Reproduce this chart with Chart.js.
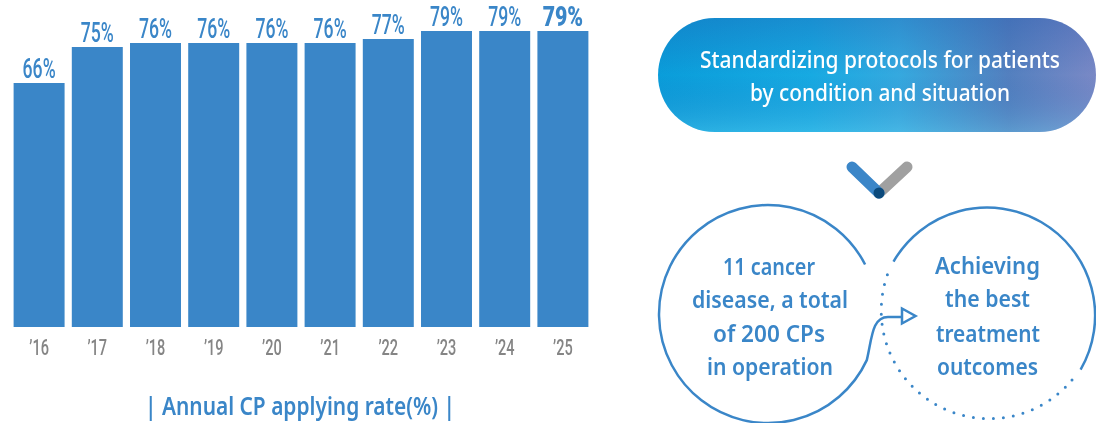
<!DOCTYPE html>
<html>
<head>
<meta charset="utf-8">
<script src="https://cdn.jsdelivr.net/npm/chart.js@4.4.1/dist/chart.umd.min.js"></script>
<style>
  html, body { margin: 0; padding: 0; background: #fff; }
  #wrap { position: relative; width: 1096px; height: 423px; overflow: hidden; }
  #chart-box { position: absolute; left: 0; top: 0; width: 600px; height: 423px; }
  #deco { position: absolute; left: 0; top: 0; }
  .blue { fill: #3a86c8; font-family: 'Noto Sans', 'Open Sans', sans-serif; font-weight: 600; }
  .pill-text { fill: #fff; font-family: 'Noto Sans', 'Open Sans', sans-serif; font-weight: 500; font-size: 23px; }
</style>
</head>
<body>
<div id="wrap">
  <div id="chart-box"><canvas id="rateChart" width="600" height="423"></canvas></div>
  <svg id="deco" width="1096" height="423" viewBox="0 0 1096 423">
    <defs>
      <linearGradient id="pillBase" x1="0" y1="0" x2="1" y2="0">
        <stop offset="0" stop-color="#0a9dda"/>
        <stop offset="0.35" stop-color="#17aae2"/>
        <stop offset="0.55" stop-color="#35a9df"/>
        <stop offset="0.8" stop-color="#5380bf"/>
        <stop offset="1" stop-color="#7a89c6"/>
      </linearGradient>
      <linearGradient id="pillShade" x1="0" y1="0" x2="0" y2="1">
        <stop offset="0" stop-color="#1f4fa8" stop-opacity="0.3"/>
        <stop offset="0.5" stop-color="#1f4fa8" stop-opacity="0"/>
        <stop offset="1" stop-color="#6fd6f2" stop-opacity="0.3"/>
      </linearGradient>
    </defs>

    <!-- chart caption -->
    <text class="blue" x="145" y="415" font-size="25" textLength="310" lengthAdjust="spacingAndGlyphs">|  Annual CP applying rate(%)  |</text>

    <!-- pill -->
    <rect x="658" y="18" width="438" height="114" rx="57" fill="url(#pillBase)"/>
    <rect x="658" y="18" width="438" height="114" rx="57" fill="url(#pillShade)"/>
    <text class="pill-text" x="700" y="68" textLength="360" lengthAdjust="spacingAndGlyphs">Standardizing protocols for patients</text>
    <text class="pill-text" x="750" y="101" textLength="260" lengthAdjust="spacingAndGlyphs">by condition and situation</text>

    <!-- chevron -->
    <line x1="907" y1="167" x2="879" y2="193" stroke="#a0a0a0" stroke-width="11" stroke-linecap="round"/>
    <line x1="852" y1="167" x2="879" y2="193" stroke="#3b86c8" stroke-width="11" stroke-linecap="round"/>
    <circle cx="879" cy="193" r="5.5" fill="#0b4a7c"/>

    <!-- left circle + connector -->
    <path d="M 865.1 264.5 A 109 109 0 1 0 866.8 360.1 C 872 338 872 317 888 317 L 902 317"
          fill="none" stroke="#3a86c8" stroke-width="2.5"/>
    <path d="M 902 308.5 L 915.5 316 L 902 323.5 Z" fill="#fff" stroke="#3a86c8" stroke-width="2.5" stroke-linejoin="miter"/>

    <!-- right circle: solid top, dotted bottom -->
    <path d="M 893.5 261.6 A 108 108 0 1 1 1080.6 369.6" fill="none" stroke="#3a86c8" stroke-width="2.5"/>
    <path d="M 1072 380 A 108 108 0 0 1 890 268" fill="none" stroke="#3a86c8" stroke-width="3"
          stroke-dasharray="0 10" stroke-linecap="round"/>

    <!-- circle texts -->
    <text class="blue" font-size="24" x="723" y="275" textLength="92" lengthAdjust="spacingAndGlyphs">11 cancer</text>
    <text class="blue" font-size="24" x="692" y="308" textLength="156" lengthAdjust="spacingAndGlyphs">disease, a total</text>
    <text class="blue" font-size="24" x="713" y="342" textLength="112" lengthAdjust="spacingAndGlyphs">of 200 CPs</text>
    <text class="blue" font-size="24" x="707" y="375" textLength="126" lengthAdjust="spacingAndGlyphs">in operation</text>

    <text class="blue" font-size="24" x="935" y="274" textLength="105" lengthAdjust="spacingAndGlyphs">Achieving</text>
    <text class="blue" font-size="24" x="945" y="307" textLength="85" lengthAdjust="spacingAndGlyphs">the best</text>
    <text class="blue" font-size="24" x="936" y="342" textLength="104" lengthAdjust="spacingAndGlyphs">treatment</text>
    <text class="blue" font-size="24" x="937" y="375" textLength="101" lengthAdjust="spacingAndGlyphs">outcomes</text>
  </svg>
</div>

<script>
// Data
const years = ['’16', '’17', '’18', '’19', '’20', '’21', '’22', '’23', '’24', '’25'];
const rates = [66, 75, 76, 76, 76, 76, 77, 79, 79, 79];

const BAR_BLUE = '#3a86c8';
const TICK_GRAY = '#858585';

// draws text squeezed horizontally (condensed look)
function condensedText(ctx, text, x, y, sx) {
    ctx.save();
    ctx.translate(x, y);
    ctx.scale(sx, 1);
    ctx.fillText(text, 0, 0);
    ctx.restore();
}

// Value labels on top of bars + year labels under them
const labelPlugin = {
    id: 'barLabels',
    afterDatasetsDraw(chart) {
        const ctx = chart.ctx;
        const meta = chart.getDatasetMeta(0);
        const xScale = chart.scales.x;
        const bottom = chart.chartArea.bottom;

        ctx.save();
        ctx.textAlign = 'center';
        ctx.textBaseline = 'alphabetic';

        meta.data.forEach((bar, i) => {
            const last = i === rates.length - 1;
            ctx.fillStyle = BAR_BLUE;
            ctx.font = (last ? '900 ' : '500 ') + '28px Roboto, "Liberation Sans", sans-serif';
            condensedText(ctx, rates[i] + '%', bar.x, bar.y - 5, last ? 0.76 : 0.63);
        });

        ctx.fillStyle = TICK_GRAY;
        ctx.font = '500 22px Roboto, "Liberation Sans", sans-serif';
        years.forEach((y, i) => {
            condensedText(ctx, y, xScale.getPixelForValue(i), bottom + 28, 0.66);
        });
        ctx.restore();
    }
};

new Chart(document.getElementById('rateChart'), {
    type: 'bar',
    data: {
        labels: years,
        datasets: [{
            label: 'Annual CP applying rate(%)',
            data: rates,
            backgroundColor: BAR_BLUE,
            borderWidth: 0,
            barPercentage: 0.876,
            categoryPercentage: 1
        }]
    },
    options: {
        responsive: false,
        animation: false,
        layout: { padding: { left: 10, right: 8, top: 7, bottom: 96 } },
        scales: {
            x: { display: false },
            y: { display: false, min: 5, max: 85 }
        },
        plugins: {
            legend: { display: false },
            tooltip: { enabled: false }
        }
    },
    plugins: [labelPlugin]
});
</script>
</body>
</html>
